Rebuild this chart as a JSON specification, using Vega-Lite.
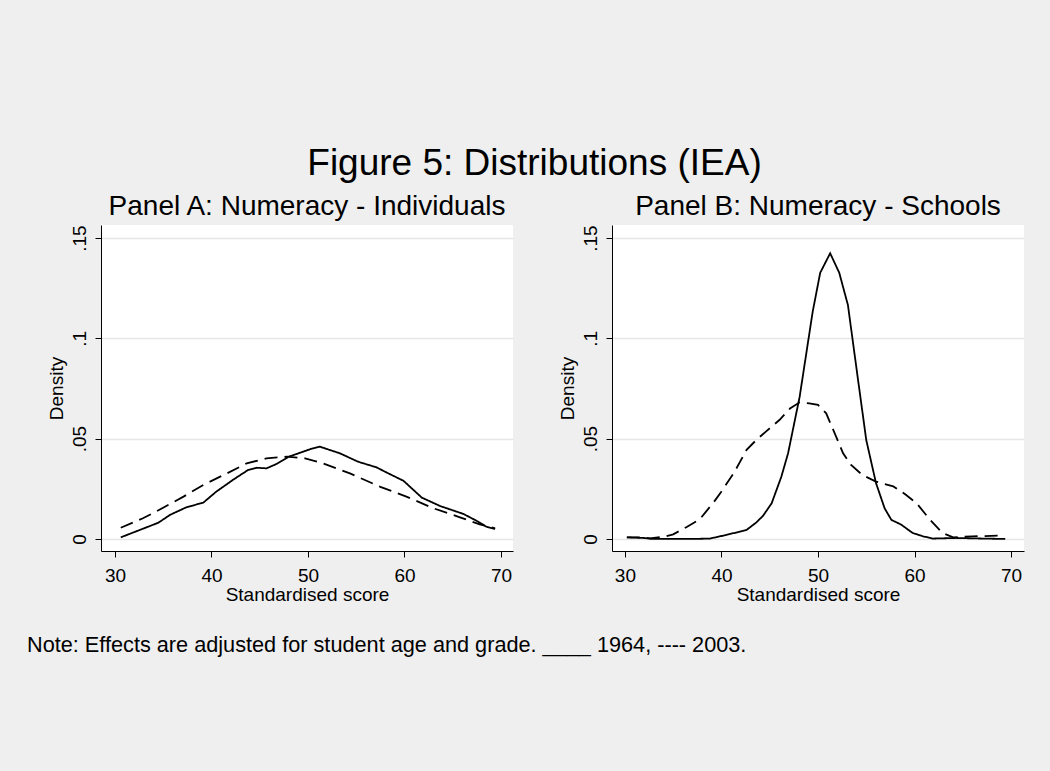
{
  "$schema": "https://vega.github.io/schema/vega-lite/v6.json",
  "background": "#efefef",
  "padding": {"left": 27, "top": 144, "right": 26, "bottom": 114},
  "config": {
    "font": "Liberation Sans",
    "view": {"fill": "white", "stroke": null},
    "axis": {
      "domainColor": "black", "domainWidth": 1,
      "tickColor": "black", "tickSize": 6, "tickWidth": 1,
      "labelFontSize": 19, "titleFontSize": 19,
      "labelColor": "black", "titleColor": "black",
      "titleFontWeight": "normal", "labelFont": "Liberation Sans", "titleFont": "Liberation Sans",
      "gridColor": "#e6e6e6", "gridWidth": 1.5
    },
    "title": {"fontWeight": "normal", "color": "black", "font": "Liberation Sans"}
  },
  "datasets": {
    "A": [
      {"year": "1964", "x": 30.6, "d": 0.0008},
      {"year": "1964", "x": 34.5, "d": 0.0081},
      {"year": "1964", "x": 35.7, "d": 0.012},
      {"year": "1964", "x": 37.4, "d": 0.0158},
      {"year": "1964", "x": 39.15, "d": 0.0181},
      {"year": "1964", "x": 40.5, "d": 0.0236},
      {"year": "1964", "x": 42.3, "d": 0.0297},
      {"year": "1964", "x": 43.8, "d": 0.0344},
      {"year": "1964", "x": 44.7, "d": 0.0355},
      {"year": "1964", "x": 45.7, "d": 0.0352},
      {"year": "1964", "x": 46.75, "d": 0.0374},
      {"year": "1964", "x": 48.0, "d": 0.041},
      {"year": "1964", "x": 49.2, "d": 0.043},
      {"year": "1964", "x": 50.2, "d": 0.0447},
      {"year": "1964", "x": 51.24, "d": 0.046},
      {"year": "1964", "x": 53.3, "d": 0.0427},
      {"year": "1964", "x": 55.2, "d": 0.0385},
      {"year": "1964", "x": 57.1, "d": 0.0357},
      {"year": "1964", "x": 58.2, "d": 0.033},
      {"year": "1964", "x": 59.9, "d": 0.029},
      {"year": "1964", "x": 61.8, "d": 0.0206},
      {"year": "1964", "x": 63.7, "d": 0.0164},
      {"year": "1964", "x": 66.1, "d": 0.0125},
      {"year": "1964", "x": 67.3, "d": 0.0095},
      {"year": "1964", "x": 68.5, "d": 0.0061},
      {"year": "1964", "x": 69.4, "d": 0.005},
      {"year": "2003", "x": 30.6, "d": 0.0056},
      {"year": "2003", "x": 32.9, "d": 0.0103},
      {"year": "2003", "x": 34.7, "d": 0.0148},
      {"year": "2003", "x": 37.1, "d": 0.0211},
      {"year": "2003", "x": 39.15, "d": 0.0269},
      {"year": "2003", "x": 41.6, "d": 0.0327},
      {"year": "2003", "x": 43.65, "d": 0.0377},
      {"year": "2003", "x": 45.7, "d": 0.0402},
      {"year": "2003", "x": 47.8, "d": 0.041},
      {"year": "2003", "x": 49.7, "d": 0.0402},
      {"year": "2003", "x": 51.24, "d": 0.0382},
      {"year": "2003", "x": 54.35, "d": 0.0327},
      {"year": "2003", "x": 57.5, "d": 0.026},
      {"year": "2003", "x": 60.2, "d": 0.0211},
      {"year": "2003", "x": 63.0, "d": 0.0153},
      {"year": "2003", "x": 65.75, "d": 0.0108},
      {"year": "2003", "x": 67.8, "d": 0.0073},
      {"year": "2003", "x": 69.4, "d": 0.0053}
    ],
    "B": [
      {"year": "1964", "x": 30.2, "d": 0.0008},
      {"year": "1964", "x": 31.9, "d": 0.0005},
      {"year": "1964", "x": 32.9, "d": 0.0},
      {"year": "1964", "x": 35.0, "d": 0.0},
      {"year": "1964", "x": 37.0, "d": 0.0},
      {"year": "1964", "x": 38.8, "d": 0.0002},
      {"year": "1964", "x": 40.5, "d": 0.002},
      {"year": "1964", "x": 42.6, "d": 0.0045},
      {"year": "1964", "x": 43.6, "d": 0.0082},
      {"year": "1964", "x": 44.3, "d": 0.0115},
      {"year": "1964", "x": 45.2, "d": 0.0178},
      {"year": "1964", "x": 46.2, "d": 0.031},
      {"year": "1964", "x": 46.9, "d": 0.0427},
      {"year": "1964", "x": 48.1, "d": 0.0709},
      {"year": "1964", "x": 49.45, "d": 0.1133},
      {"year": "1964", "x": 50.23, "d": 0.1327},
      {"year": "1964", "x": 51.26, "d": 0.1424},
      {"year": "1964", "x": 52.2, "d": 0.1327},
      {"year": "1964", "x": 53.1, "d": 0.1166},
      {"year": "1964", "x": 54.1, "d": 0.081},
      {"year": "1964", "x": 55.0, "d": 0.0493},
      {"year": "1964", "x": 56.0, "d": 0.028},
      {"year": "1964", "x": 56.9, "d": 0.0153},
      {"year": "1964", "x": 57.6, "d": 0.0095},
      {"year": "1964", "x": 58.6, "d": 0.0072},
      {"year": "1964", "x": 59.8, "d": 0.003},
      {"year": "1964", "x": 60.9, "d": 0.0013},
      {"year": "1964", "x": 61.9, "d": 0.0002},
      {"year": "1964", "x": 64.3, "d": 0.0005},
      {"year": "1964", "x": 66.0, "d": 0.0003},
      {"year": "1964", "x": 69.4, "d": 0.0},
      {"year": "2003", "x": 30.2, "d": 0.0008},
      {"year": "2003", "x": 31.9, "d": 0.0008},
      {"year": "2003", "x": 32.6, "d": 0.0003},
      {"year": "2003", "x": 34.1, "d": 0.0012},
      {"year": "2003", "x": 35.0, "d": 0.0023},
      {"year": "2003", "x": 36.4, "d": 0.006},
      {"year": "2003", "x": 37.75, "d": 0.0098},
      {"year": "2003", "x": 38.4, "d": 0.0136},
      {"year": "2003", "x": 39.3, "d": 0.019},
      {"year": "2003", "x": 40.0, "d": 0.0237},
      {"year": "2003", "x": 41.3, "d": 0.033},
      {"year": "2003", "x": 42.6, "d": 0.0444},
      {"year": "2003", "x": 43.6, "d": 0.0493},
      {"year": "2003", "x": 44.6, "d": 0.0535},
      {"year": "2003", "x": 46.0, "d": 0.0593},
      {"year": "2003", "x": 47.1, "d": 0.065},
      {"year": "2003", "x": 48.1, "d": 0.0681},
      {"year": "2003", "x": 49.1, "d": 0.0676},
      {"year": "2003", "x": 50.0, "d": 0.0668},
      {"year": "2003", "x": 50.85, "d": 0.0626},
      {"year": "2003", "x": 51.7, "d": 0.053},
      {"year": "2003", "x": 52.6, "d": 0.0427},
      {"year": "2003", "x": 53.4, "d": 0.037},
      {"year": "2003", "x": 54.6, "d": 0.0319},
      {"year": "2003", "x": 56.0, "d": 0.0286},
      {"year": "2003", "x": 57.8, "d": 0.0262},
      {"year": "2003", "x": 58.4, "d": 0.0244},
      {"year": "2003", "x": 59.1, "d": 0.022},
      {"year": "2003", "x": 60.2, "d": 0.0179},
      {"year": "2003", "x": 61.6, "d": 0.0096},
      {"year": "2003", "x": 62.9, "d": 0.003},
      {"year": "2003", "x": 64.0, "d": 0.0008},
      {"year": "2003", "x": 66.0, "d": 0.0013},
      {"year": "2003", "x": 69.1, "d": 0.0017}
    ]
  },
  "title": {"text": "Figure 5: Distributions (IEA)", "fontSize": 37, "anchor": "middle", "offset": 10, "dx": 9},
  "vconcat": [
    {
      "title": {"text": "Note: Effects are adjusted for student age and grade. ____ 1964, ---- 2003.", "orient": "bottom", "anchor": "start", "fontSize": 21.7, "offset": 31, "dx": -20},
      "spacing": 45,
      "hconcat": [
        {
          "width": 412, "height": 326,
          "title": {"text": "Panel A: Numeracy - Individuals", "fontSize": 28, "offset": 4},
          "data": {"name": "A"},
          "mark": {"type": "line", "color": "black", "strokeWidth": 1.8},
          "encoding": {
            "x": {"field": "x", "type": "quantitative",
                  "scale": {"domain": [28.55, 71.25], "nice": false, "zero": false},
                  "axis": {"title": "Standardised score", "values": [30, 40, 50, 60, 70], "grid": false, "labelPadding": 9, "titlePadding": 0, "labelFlush": false}},
            "y": {"field": "d", "type": "quantitative",
                  "scale": {"domain": [-0.006, 0.1565], "nice": false, "zero": false},
                  "axis": {"title": "Density", "values": [0, 0.05, 0.1, 0.15], "grid": true, "labelAngle": 270, "labelAlign": "center", "labelBaseline": "alphabetic", "labelPadding": 10, "titlePadding": 4,
                           "labelExpr": "replace(format(datum.value, '.2~f'), '0.', '.')"}},
            "strokeDash": {"field": "year", "type": "nominal",
                           "scale": {"domain": ["1964", "2003"], "range": [[1, 0], [13, 7]]}, "legend": null}
          }
        },
        {
          "width": 412, "height": 326,
          "title": {"text": "Panel B: Numeracy - Schools", "fontSize": 28, "offset": 4},
          "data": {"name": "B"},
          "mark": {"type": "line", "color": "black", "strokeWidth": 1.8},
          "encoding": {
            "x": {"field": "x", "type": "quantitative",
                  "scale": {"domain": [28.66, 71.34], "nice": false, "zero": false},
                  "axis": {"title": "Standardised score", "values": [30, 40, 50, 60, 70], "grid": false, "labelPadding": 9, "titlePadding": 0, "labelFlush": false}},
            "y": {"field": "d", "type": "quantitative",
                  "scale": {"domain": [-0.006, 0.1565], "nice": false, "zero": false},
                  "axis": {"title": "Density", "values": [0, 0.05, 0.1, 0.15], "grid": true, "labelAngle": 270, "labelAlign": "center", "labelBaseline": "alphabetic", "labelPadding": 10, "titlePadding": 4,
                           "labelExpr": "replace(format(datum.value, '.2~f'), '0.', '.')"}},
            "strokeDash": {"field": "year", "type": "nominal",
                           "scale": {"domain": ["1964", "2003"], "range": [[1, 0], [13, 7]]}, "legend": null}
          }
        }
      ]
    }
  ]
}
